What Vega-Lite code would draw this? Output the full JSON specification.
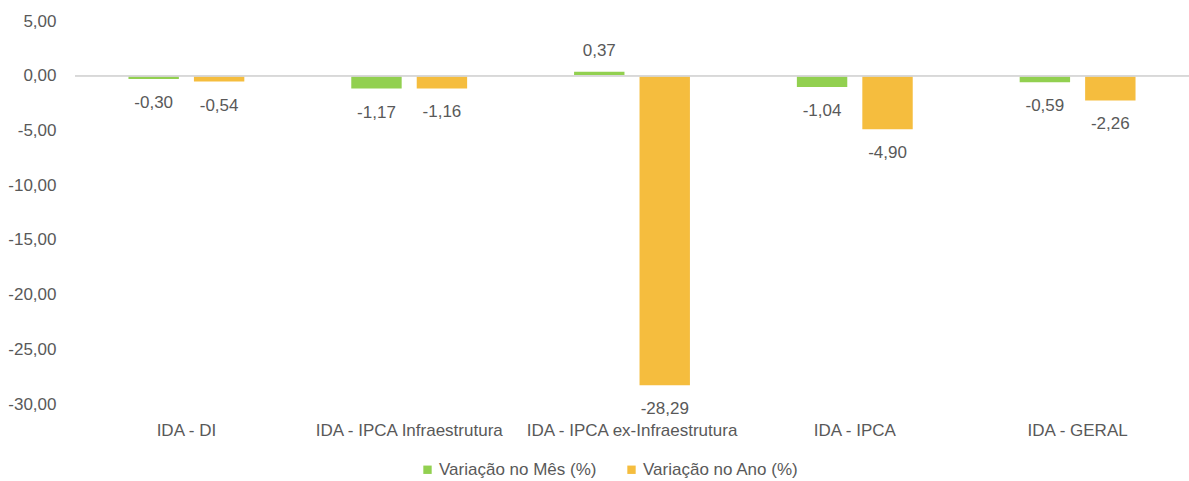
{
  "$schema": "https://vega.github.io/schema/vega-lite/v6.json",
  "width": 1114,
  "height": 383,
  "autosize": {"type": "none"},
  "padding": {"left": 75, "top": 21, "right": 0, "bottom": 77},
  "background": "white",
  "config": {
    "view": {"stroke": null},
    "locale": {"number": {"decimal": ",", "thousands": ".", "grouping": [3], "currency": ["R$", ""], "minus": "-"}},
    "font": "Liberation Sans",
    "axis": {"labelFont": "Liberation Sans", "labelColor": "#595959", "labelFontSize": 17},
    "legend": {"labelFont": "Liberation Sans", "labelColor": "#595959", "labelFontSize": 17}
  },
  "data": {
    "values": [
      {"categoria": "IDA - DI", "serie": "Variação no Mês (%)", "valor": -0.30},
      {"categoria": "IDA - DI", "serie": "Variação no Ano (%)", "valor": -0.54},
      {"categoria": "IDA - IPCA Infraestrutura", "serie": "Variação no Mês (%)", "valor": -1.17},
      {"categoria": "IDA - IPCA Infraestrutura", "serie": "Variação no Ano (%)", "valor": -1.16},
      {"categoria": "IDA - IPCA ex-Infraestrutura", "serie": "Variação no Mês (%)", "valor": 0.37},
      {"categoria": "IDA - IPCA ex-Infraestrutura", "serie": "Variação no Ano (%)", "valor": -28.29},
      {"categoria": "IDA - IPCA", "serie": "Variação no Mês (%)", "valor": -1.04},
      {"categoria": "IDA - IPCA", "serie": "Variação no Ano (%)", "valor": -4.90},
      {"categoria": "IDA - GERAL", "serie": "Variação no Mês (%)", "valor": -0.59},
      {"categoria": "IDA - GERAL", "serie": "Variação no Ano (%)", "valor": -2.26}
    ]
  },
  "encoding": {
    "x": {
      "field": "categoria", "type": "nominal", "sort": null,
      "scale": {"paddingInner": 0.48, "paddingOuter": 0.24},
      "axis": {"title": null, "labelAngle": 0, "domain": false, "ticks": false, "labelPadding": 26, "labelBaseline": "middle", "labelLimit": 0}
    },
    "xOffset": {
      "field": "serie", "type": "nominal", "sort": ["Variação no Mês (%)", "Variação no Ano (%)"],
      "scale": {"paddingInner": 0.23, "paddingOuter": 0}
    },
    "y": {
      "field": "valor", "type": "quantitative",
      "scale": {"domain": [-30, 5], "nice": false, "zero": true},
      "axis": {"title": null, "values": [5, 0, -5, -10, -15, -20, -25, -30], "format": ".2f", "domain": false, "ticks": false, "grid": false, "labelPadding": 19}
    }
  },
  "layer": [
    {
      "mark": {"type": "bar"},
      "encoding": {
        "color": {
          "field": "serie", "type": "nominal",
          "sort": ["Variação no Mês (%)", "Variação no Ano (%)"],
          "scale": {"domain": ["Variação no Mês (%)", "Variação no Ano (%)"], "range": ["#92D050", "#F5BD3E"]},
          "legend": {
            "title": null, "orient": "none", "direction": "horizontal",
            "legendX": 344, "legendY": 440,
            "symbolType": "square", "symbolSize": 70, "symbolStrokeWidth": 0,
            "labelOffset": 3, "columnPadding": 26, "labelLimit": 0
          }
        }
      }
    },
    {
      "mark": {"type": "rule", "color": "#D9D9D9", "strokeWidth": 1},
      "encoding": {"x": null, "xOffset": null, "y": {"datum": 0}}
    },
    {
      "transform": [{"filter": "datum.valor < 0"}],
      "mark": {"type": "text", "baseline": "middle", "dy": 24, "color": "#595959", "fontSize": 17},
      "encoding": {"text": {"field": "valor", "type": "quantitative", "format": ".2f"}}
    },
    {
      "transform": [{"filter": "datum.valor >= 0"}],
      "mark": {"type": "text", "baseline": "middle", "dy": -21, "color": "#595959", "fontSize": 17},
      "encoding": {"text": {"field": "valor", "type": "quantitative", "format": ".2f"}}
    }
  ]
}
